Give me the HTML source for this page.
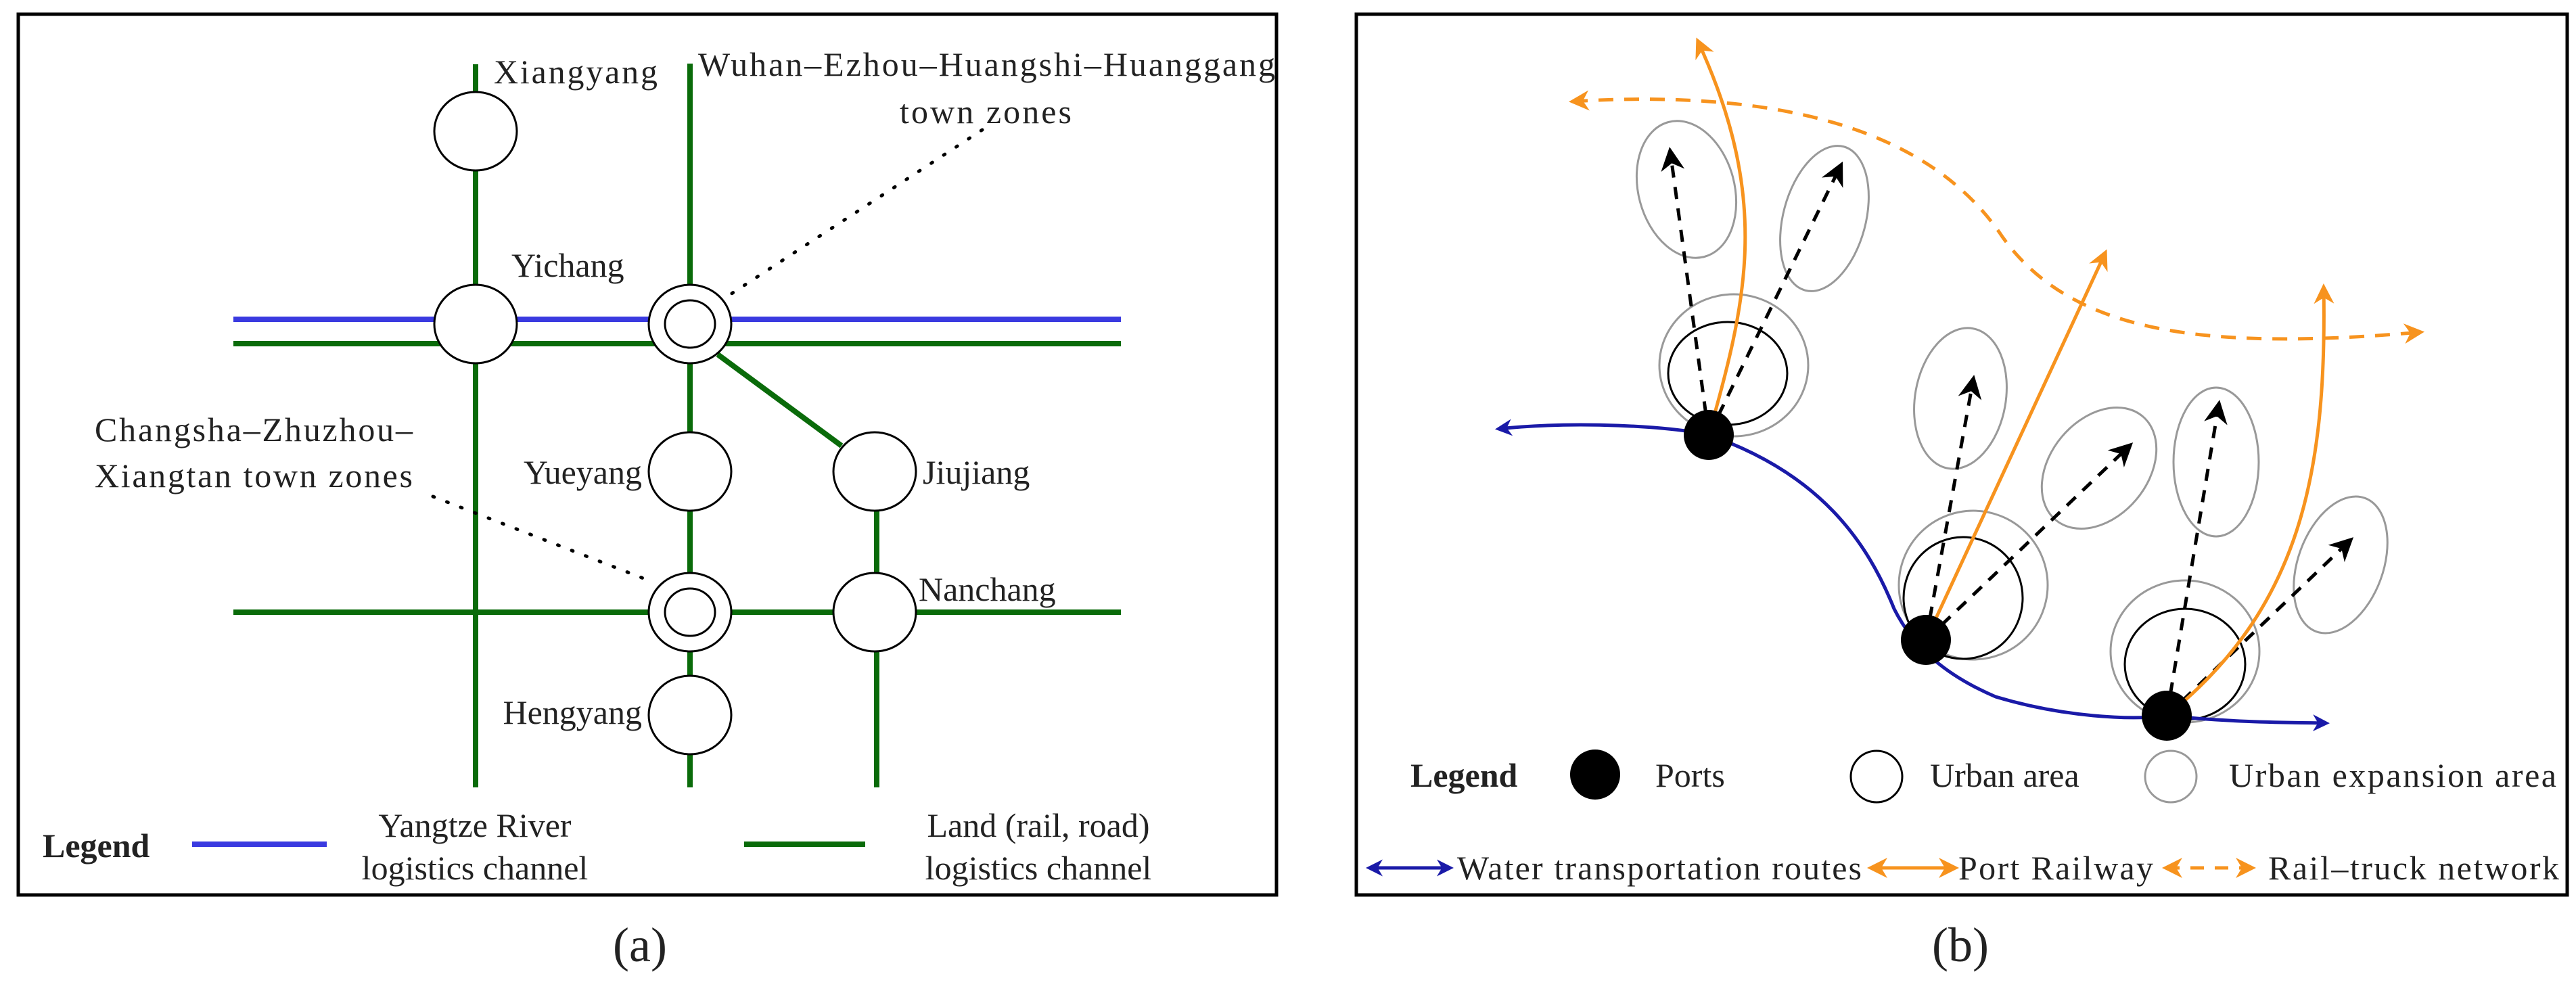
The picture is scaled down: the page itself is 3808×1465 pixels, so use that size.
<!DOCTYPE html>
<html><head><meta charset="utf-8"><style>html,body{margin:0;padding:0;background:#fff}svg{display:block}</style></head>
<body>
<svg width="3808" height="1465" viewBox="0 0 3808 1465" xmlns="http://www.w3.org/2000/svg" font-family="'Liberation Serif', serif" font-size="50">
<defs>
<marker id="ab" viewBox="0 0 10 10" refX="8" refY="5" markerWidth="5" markerHeight="5" orient="auto-start-reverse"><path d="M0,0 L10,5 L0,10 L3,5 z" fill="#1a1aa8"/></marker>
<marker id="ao" viewBox="0 0 10 10" refX="8" refY="5" markerWidth="6" markerHeight="6" orient="auto-start-reverse"><path d="M0,0 L10,5 L0,10 L3,5 z" fill="#f7931e"/></marker>
<marker id="ak" viewBox="0 0 10 10" refX="8" refY="5" markerWidth="7" markerHeight="7" orient="auto"><path d="M0,0 L10,5 L0,10 L3,5 z" fill="#000"/></marker>
</defs>
<rect width="3808" height="1465" fill="#fff"/>
<!-- Panel A -->
<rect x="27" y="21" width="1860" height="1302" fill="none" stroke="#000" stroke-width="5"/>
<g stroke="#0a6b0a" stroke-width="8" fill="none">
<line x1="703" y1="95" x2="703" y2="1164"/>
<line x1="1020" y1="94" x2="1020" y2="1164"/>
<line x1="1296" y1="697" x2="1296" y2="1164"/>
<line x1="345" y1="508" x2="1657" y2="508"/>
<line x1="345" y1="905" x2="1657" y2="905"/>
<line x1="1061" y1="524" x2="1244" y2="659"/>
<line x1="1100" y1="1248" x2="1279" y2="1248"/>
</g>
<g stroke="#3a3ae0" stroke-width="8"><line x1="345" y1="472" x2="1657" y2="472"/><line x1="284" y1="1248" x2="483" y2="1248"/></g>
<g fill="#fff" stroke="#000" stroke-width="3">
<ellipse cx="703" cy="194" rx="61" ry="58"/><ellipse cx="703" cy="479" rx="61" ry="58"/>
<ellipse cx="1020" cy="479" rx="61" ry="58"/><ellipse cx="1020" cy="479" rx="37" ry="35"/>
<ellipse cx="1020" cy="697" rx="61" ry="58"/><ellipse cx="1293" cy="697" rx="61" ry="58"/>
<ellipse cx="1020" cy="905" rx="61" ry="58"/><ellipse cx="1020" cy="905" rx="37" ry="35"/>
<ellipse cx="1293" cy="905" rx="61" ry="58"/><ellipse cx="1020" cy="1057" rx="61" ry="58"/>
</g>
<g stroke="#000" stroke-width="5" stroke-dasharray="2 20" stroke-linecap="round"><line x1="1452" y1="192" x2="1080" y2="435"/><line x1="640" y1="734" x2="964" y2="860"/></g>
<g fill="#222">
<text x="730" y="123" textLength="242">Xiangyang</text>
<text x="1032" y="112" textLength="853">Wuhan–Ezhou–Huangshi–Huanggang</text>
<text x="1330" y="182" textLength="254">town zones</text>
<text x="756" y="409">Yichang</text>
<text x="140" y="652" textLength="470">Changsha–Zhuzhou–</text>
<text x="140" y="720" textLength="470">Xiangtan town zones</text>
<text x="949" y="715" text-anchor="end">Yueyang</text>
<text x="1364" y="715">Jiujiang</text>
<text x="1358" y="888">Nanchang</text>
<text x="949" y="1070" text-anchor="end">Hengyang</text>
<text x="63" y="1267" font-weight="bold">Legend</text>
<text x="702" y="1237" text-anchor="middle">Yangtze River</text>
<text x="702" y="1300" text-anchor="middle">logistics channel</text>
<text x="1535" y="1237" text-anchor="middle">Land (rail, road)</text>
<text x="1535" y="1300" text-anchor="middle">logistics channel</text>
<text x="946" y="1421" text-anchor="middle" font-size="72">(a)</text>
</g>
<!-- Panel B -->
<rect x="2005" y="21" width="1790" height="1302" fill="none" stroke="#000" stroke-width="5"/>
<g fill="none" stroke="#999" stroke-width="3">
<ellipse cx="2563" cy="540" rx="110" ry="105"/><ellipse cx="2917" cy="865" rx="110" ry="110"/><ellipse cx="3230" cy="963" rx="110" ry="105"/>
<ellipse cx="2493" cy="280" rx="71" ry="103" transform="rotate(-15 2493 280)"/>
<ellipse cx="2697" cy="323" rx="61" ry="110" transform="rotate(15 2697 323)"/>
<ellipse cx="2898" cy="589" rx="67" ry="105" transform="rotate(10 2898 589)"/>
<ellipse cx="3103" cy="692" rx="72" ry="100" transform="rotate(40 3103 692)"/>
<ellipse cx="3276" cy="683" rx="63" ry="110"/>
<ellipse cx="3460" cy="835" rx="63" ry="105" transform="rotate(20 3460 835)"/>
<circle cx="3209" cy="1148" r="38"/>
</g>
<g fill="none" stroke="#000" stroke-width="3">
<ellipse cx="2554" cy="552" rx="88" ry="76"/><ellipse cx="2902" cy="884" rx="88" ry="90"/><ellipse cx="3230" cy="982" rx="89" ry="82"/>
<circle cx="2774" cy="1148" r="38"/>
</g>
<g fill="none" stroke="#000" stroke-width="5" stroke-dasharray="18 14" marker-end="url(#ak)">
<line x1="2526" y1="643" x2="2469" y2="224"/><line x1="2526" y1="643" x2="2721" y2="245"/>
<line x1="2847" y1="946" x2="2917" y2="561"/><line x1="2847" y1="946" x2="3148" y2="659"/>
<line x1="3203" y1="1058" x2="3280" y2="598"/><line x1="3203" y1="1058" x2="3474" y2="799"/>
</g>
<g fill="none" stroke="#f7931e" stroke-width="5">
<path d="M2526,643 C2580,450 2620,300 2510,61" marker-end="url(#ao)"/>
<path d="M2847,946 L3112,374" marker-end="url(#ao)"/>
<path d="M3203,1058 C3400,900 3440,700 3435,425" marker-end="url(#ao)"/>
<path d="M2325,150 C2650,130 2860,200 2960,350 C3060,490 3250,520 3578,491" stroke-dasharray="22 16" marker-start="url(#ao)" marker-end="url(#ao)"/>
</g>
<g fill="none" stroke="#1a1aa8" stroke-width="5">
<path d="M2215,634 C2330,622 2470,630 2526,643" marker-start="url(#ab)"/>
<path d="M2526,643 C2690,700 2760,800 2800,900 C2830,960 2880,1000 2950,1030 C3050,1060 3150,1065 3203,1058"/>
<path d="M3203,1058 C3300,1068 3380,1068 3439,1069" marker-end="url(#ab)"/>
</g>
<g fill="#000"><circle cx="2526" cy="643" r="37"/><circle cx="2847" cy="946" r="37"/><circle cx="3203" cy="1058" r="37"/><circle cx="2358" cy="1145" r="37"/></g>
<line x1="2024" y1="1283" x2="2144" y2="1283" stroke="#1a1aa8" stroke-width="5" marker-start="url(#ab)" marker-end="url(#ab)"/>
<line x1="2766" y1="1283" x2="2890" y2="1283" stroke="#f7931e" stroke-width="5" marker-start="url(#ao)" marker-end="url(#ao)"/>
<line x1="3202" y1="1283" x2="3329" y2="1283" stroke="#f7931e" stroke-width="5" stroke-dasharray="20 16" marker-start="url(#ao)" marker-end="url(#ao)"/>
<g fill="#222">
<text x="2085" y="1163" font-weight="bold">Legend</text>
<text x="2447" y="1163">Ports</text>
<text x="2853" y="1163">Urban area</text>
<text x="3295" y="1163" textLength="484">Urban expansion area</text>
<text x="2154" y="1300" textLength="598">Water transportation routes</text>
<text x="2895" y="1300" textLength="288">Port Railway</text>
<text x="3353" y="1300" textLength="430">Rail–truck network</text>
<text x="2898" y="1421" text-anchor="middle" font-size="72">(b)</text>
</g>
</svg>
</body></html>
